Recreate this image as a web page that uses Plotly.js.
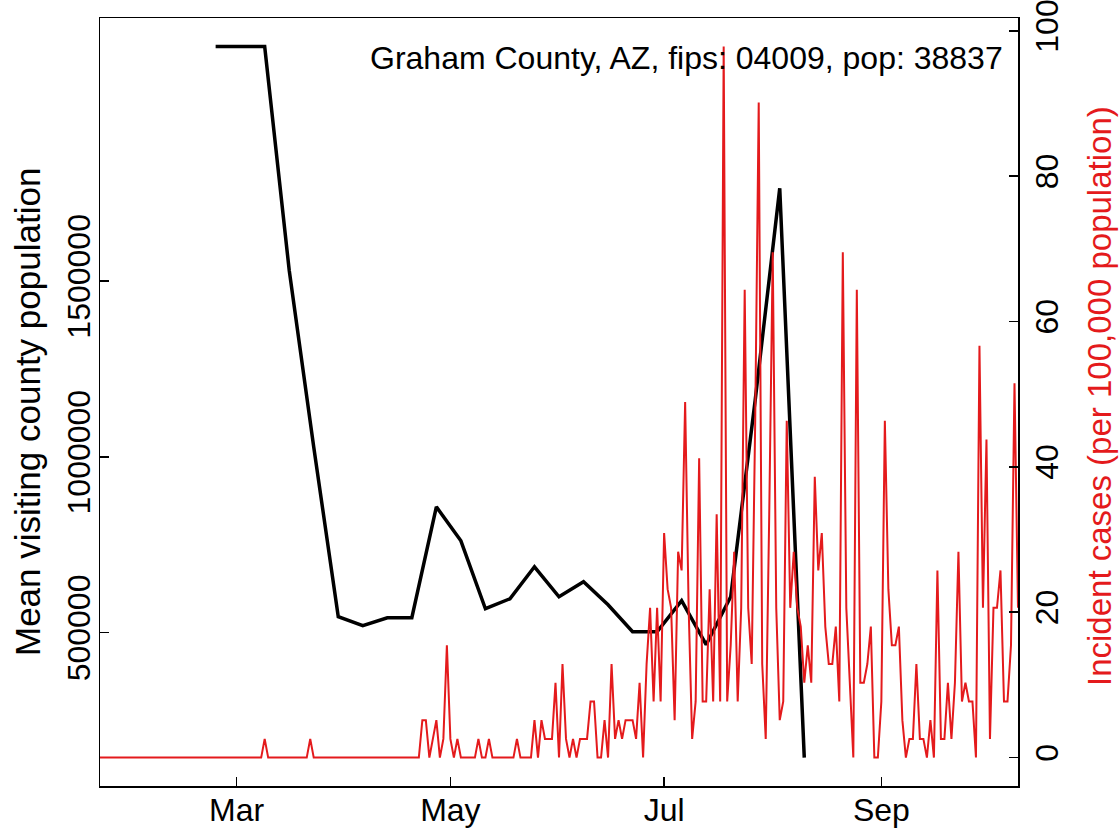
<!DOCTYPE html>
<html><head><meta charset="utf-8">
<script src="https://cdn.plot.ly/plotly-3.0.1.min.js"></script>
<style>html,body{margin:0;padding:0;background:#fff}</style>
</head><body><div id="chart" style="width:1119px;height:830px"></div>
<script>
// daily incident cases per 100,000 population, starting 2020-01-22
const caseStart = '2020-01-22';
const caseRate = [
0,0,0,0,0,0,0,0,0,0, 0,0,0,0,0,0,0,0,0,0, 0,0,0,0,0,0,0,0,0,0, 0,0,0,0,0,0,0,0,0,0, 0,0,0,0,0,0,0,
2.57,
0,0,0,0,0,0,0,0,0,0,0,0,
2.57,
0,0,0,0,0,0,0,0,0,0, 0,0,0,0,0,0,0,0,0,0, 0,0,0,0,0,0,0,0,0,0, 0,
5.15,5.15,0,2.57,5.15,0,2.57,15.45,2.57,0,
2.57,0,0,0,0,0,2.57,0,0,2.57,
0,0,0,0,0,0,0,2.57,0,0,
0,0,5.15,0,5.15,2.57,2.57,2.57,10.3,0,
12.87,2.57,0,2.57,0,2.57,2.57,2.57,7.72,7.72,
0,0,5.15,0,12.87,2.57,5.15,2.57,5.15,5.15,
5.15,2.57,10.3,0,12.87,20.6,7.72,20.6,7.72,30.9,
23.17,20.6,5.15,28.32,25.75,48.92,20.6,2.57,7.72,41.2,
7.72,7.72,23.17,7.72,33.47,7.72,97.85,7.72,15.45,28.32,
7.72,20.6,64.37,20.6,12.87,46.35,90.12,12.87,2.57,33.47,
69.52,20.6,5.15,7.72,46.35,20.6,28.32,20.6,18.02,10.3,
15.45,10.3,38.62,25.75,30.9,18.02,12.87,12.87,18.02,7.72,
69.52,20.6,10.3,0,64.37,10.3,10.3,12.87,18.02,0,
0,7.72,46.35,23.17,15.45,15.45,18.02,5.15,0,2.57,
2.57,12.87,2.57,2.57,0,5.15,0,25.75,2.57,2.57,
10.3,2.57,10.3,28.32,7.72,10.3,7.72,7.72,0,56.65,
20.6,43.77,2.57,20.6,20.6,25.75,7.72,7.72,15.45,51.5,
20.6
];
// weekly mean visiting county population
const weekDates = ['2020-02-24','2020-03-02','2020-03-09','2020-03-16','2020-03-23','2020-03-30',
  '2020-04-06','2020-04-13','2020-04-20','2020-04-27','2020-05-04','2020-05-11','2020-05-18',
  '2020-05-25','2020-06-01','2020-06-08','2020-06-15','2020-06-22','2020-06-29','2020-07-06',
  '2020-07-13','2020-07-20','2020-07-27','2020-08-03','2020-08-10'];
const visitPop = [2167600,2167600,2167600,1531000,1028400,545500,
  519900,542600,542600,858000,761400,568200,596600,
  687500,602300,644900,579600,502800,502800,590900,
  465900,602300,1161900,1764200,144900];
const xTickDates = ['2020-03-01','2020-05-01','2020-07-01','2020-09-01'];
const xTickLabels = ['Mar','May','Jul','Sep'];
const leftTicks = [500000,1000000,1500000];
const rightTicks = [0,20,40,60,80,100];
const titleText = 'Graham County, AZ, fips: 04009, pop: 38837';
const leftTitle = 'Mean visiting county population';
const rightTitle = 'Incident cases (per 100,000 population)';

function addDays(s, n){ const d = new Date(s + 'T00:00:00Z'); d.setUTCDate(d.getUTCDate()+n); return d.toISOString().slice(0,10); }
const caseDates = caseRate.map((_, i) => addDays(caseStart, i));
function padRange(arr){ const lo = Math.min(...arr), hi = Math.max(...arr), s = hi-lo; return [lo-0.04*s, hi+0.04*s]; }

const FONT = 'Liberation Sans, Arial, Helvetica, sans-serif';
const RED = '#e41a1c';
const FS = 32;

const traces = [
  {x: weekDates, y: visitPop, type:'scatter', mode:'lines', line:{color:'#000', width:3.5}, yaxis:'y', hoverinfo:'skip'},
  {x: caseDates, y: caseRate, type:'scatter', mode:'lines', line:{color:RED, width:2}, yaxis:'y2', hoverinfo:'skip'}
];
const axisCommon = {showgrid:false, zeroline:false, showline:true, linecolor:'#000', linewidth:1.5,
  ticks:'inside', ticklen:9, tickwidth:1.5, tickcolor:'#000', ticklabeloverflow:'allow',
  tickfont:{family:FONT, size:FS, color:'#000'}};
const layout = {
  width:1119, height:830, paper_bgcolor:'#fff', plot_bgcolor:'#fff', showlegend:false,
  margin:{l:100, r:101, t:18, b:44},
  font:{family:FONT, size:FS, color:'#000'},
  xaxis: Object.assign({}, axisCommon, {type:'date', range:[caseDates[0], caseDates[caseDates.length-1]],
    tickvals:xTickDates, ticktext:xTickLabels, mirror:true, ticklabelstandoff:-5}),
  yaxis: Object.assign({}, axisCommon, {range:padRange(visitPop), tickvals:leftTicks,
    ticktext:leftTicks.map(String), tickangle:-90, ticklabelstandoff:-4}),
  yaxis2: Object.assign({}, axisCommon, {overlaying:'y', side:'right', range:padRange(caseRate),
    tickvals:rightTicks, ticktext:rightTicks.map(String), tickangle:-90}),
  annotations:[
    {text:titleText, xref:'paper', yref:'paper', x:0.9858, y:0.948, xanchor:'right', yanchor:'middle',
     showarrow:false, font:{family:FONT, size:FS, color:'#000'}},
    {text:leftTitle, xref:'paper', yref:'paper', x:(28-100)/918, y:(786-412)/768, xanchor:'center', yanchor:'middle',
     textangle:-90, showarrow:false, font:{family:FONT, size:35, color:'#000'}},
    {text:rightTitle, xref:'paper', yref:'paper', x:(1099-100)/918, y:(786-396)/768, xanchor:'center', yanchor:'middle',
     textangle:-90, showarrow:false, font:{family:FONT, size:33, color:RED}}
  ]
};
Plotly.newPlot('chart', traces, layout, {staticPlot:true, displayModeBar:false});
</script></body></html>
